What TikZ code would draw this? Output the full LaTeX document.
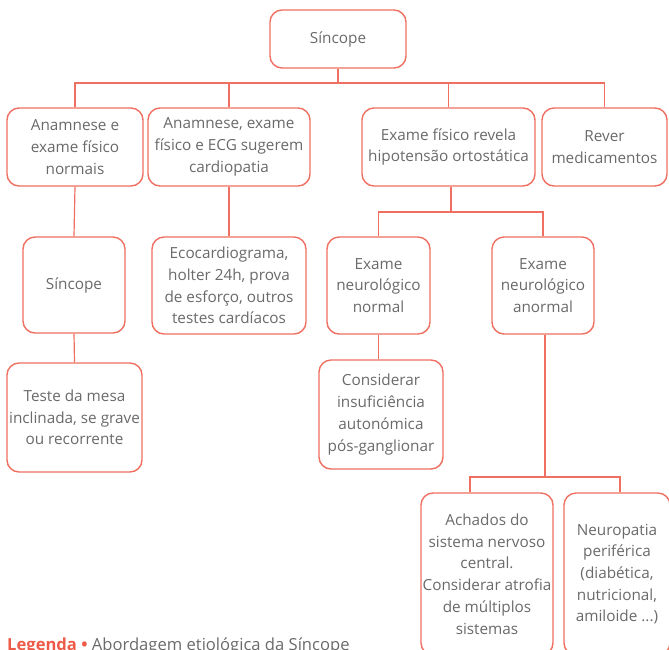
\documentclass[tikz,border=0pt]{standalone}
\usepackage{fontspec}
\setmainfont{Open Sans}
\definecolor{bord}{HTML}{EF6F61}
\definecolor{txt}{HTML}{6A6A6A}
\definecolor{legred}{HTML}{EE5A48}
\begin{document}
\begin{tikzpicture}[x=1pt,y=-1pt,
  box/.style={draw=bord, line width=1.4pt, rounded corners=12pt, fill=white,
    align=center, text=txt, font=\fontsize{15.3}{21.7}\selectfont, inner sep=0pt},
  conn/.style={draw=bord, line width=1.2pt}]
\useasboundingbox (0,0) rectangle (669,649);
\clip (0,0) rectangle (669,649);
% nodes
\node[box, minimum width=136pt, minimum height=58pt] (top) at (338,39) {Síncope};
\node[box, minimum width=136pt, minimum height=78pt] (b1) at (75,147) {Anamnese e\\exame físico\\normais};
\node[box, minimum width=162pt, minimum height=78pt] (b2) at (229,147) {Anamnese, exame\\físico e ECG sugerem\\cardiopatia};
\node[box, minimum width=173pt, minimum height=78pt] (b3) at (448.5,147) {Exame físico revela\\hipotensão ortostática};
\node[box, minimum width=125pt, minimum height=78pt] (b4) at (604.5,147) {Rever\\medicamentos};
\node[box, minimum width=102pt, minimum height=96pt] (s2) at (74,285) {Síncope};
\node[box, minimum width=135pt, minimum height=109pt] (teste) at (74.5,417.5) {Teste da mesa\\inclinada, se grave\\ou recorrente};
\node[box, minimum width=154pt, minimum height=97pt] (eco) at (229,285.5) {Ecocardiograma,\\holter 24h, prova\\de esforço, outros\\testes cardíacos};
\node[box, minimum width=103pt, minimum height=97pt] (en) at (378.5,285.5) {Exame\\neurológico\\normal};
\node[box, minimum width=102pt, minimum height=97pt] (ea) at (543,285.5) {Exame\\neurológico\\anormal};
\node[box, minimum width=124pt, minimum height=109pt] (cons) at (381,414.5) {Considerar\\insuficiência\\autonómica\\pós-ganglionar};
\node[box, minimum width=132pt, minimum height=162pt] (ach) at (487,574) {Achados do\\sistema nervoso\\central.\\Considerar atrofia\\de múltiplos\\sistemas};
\node[box, minimum width=106pt, minimum height=162pt] (neu) at (617,574) {Neuropatia\\periférica\\(diabética,\\nutricional,\\amiloide ...)};
% junctions
\coordinate (j1) at (338,83);
\coordinate (j2) at (451,212);
\coordinate (j3) at (545,477);
% connectors
\draw[conn] (top.south) -- (j1);
\draw[conn] (b1.north) |- (j1) -| (b4.north);
\draw[conn] (b2.north) -- (b2.north |- j1);
\draw[conn] (b3.north) -- (b3.north |- j1);
\draw[conn] (b1.south) -- (s2.north);
\draw[conn] (s2.south) -- (teste.north);
\draw[conn] (b2.south) -- (eco.north);
\draw[conn] (b3.south -| j2) -- (j2);
\draw[conn] (en.north) |- (j2) -| (ea.north);
\draw[conn] (en.south) -- (en.south |- cons.north);
\draw[conn] (ea.south -| j3) -- (j3);
\draw[conn] ([xshift=-17pt]ach.north) |- (j3) -| ([xshift=3pt]neu.north);
% legend
\node[anchor=base west, inner sep=0pt, font=\fontsize{16.6}{18}\selectfont] (leg) at (7,650)
  {\textcolor{legred}{\bfseries Legenda •} \textcolor{txt}{Abordagem etiológica da Síncope}};
\end{tikzpicture}
\end{document}
